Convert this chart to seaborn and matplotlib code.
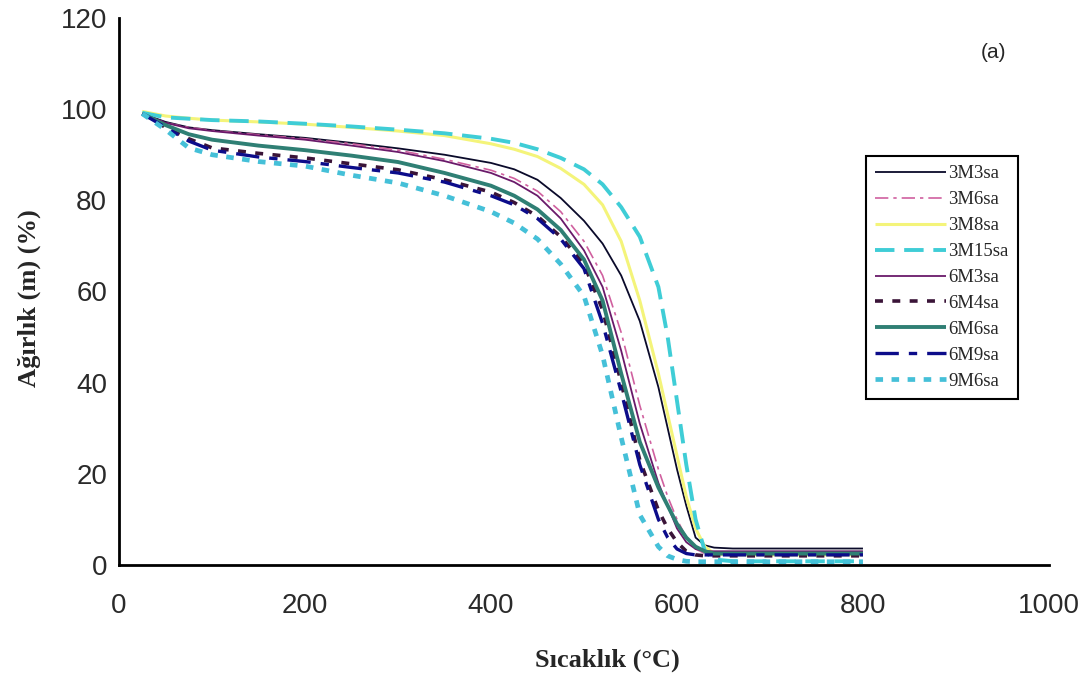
import matplotlib
matplotlib.use("Agg")
import matplotlib.pyplot as plt
import seaborn as sns
import pandas as pd

# ---- data ----
temperature = [25, 50, 75, 100, 150, 200, 250, 300, 350, 400, 425, 450, 475, 500,
               520, 540, 560, 580, 590, 600, 610, 620, 630, 640, 660, 700, 750, 800]

w_3M3sa = [99, 97.2, 96, 95.4, 94.5, 93.7, 92.6, 91.4, 90, 88.2, 86.8, 84.5, 80.5, 75.5,
           70.5, 63.5, 53.5, 39, 30, 21, 13, 6, 4.3, 3.8, 3.6, 3.6, 3.6, 3.6]
w_3M6sa = [99, 97, 96, 95.3, 94.4, 93.5, 92.4, 91, 89, 86.6, 84.8, 82, 77.5, 71,
           63.5, 51, 35, 21, 15, 10, 6, 3.5, 2.5, 2.3, 2.3, 2.3, 2.3, 2.3]
w_3M8sa = [99.5, 98.5, 98, 97.6, 97.2, 96.7, 96, 95.2, 94.2, 92.4, 91.2, 89.6, 87, 83.5,
           79, 71, 58, 42, 33, 24, 15, 8, 4, 2.5, 2.2, 2.2, 2.2, 2.2]
w_3M15sa = [99.2, 98.2, 97.9, 97.6, 97.3, 96.8, 96.2, 95.5, 94.7, 93.5, 92.6, 91.2, 89.3, 86.8,
            83.5, 78.5, 72, 61, 50, 36, 22, 10, 3, 1.2, 0.8, 0.8, 0.8, 0.8]
w_6M3sa = [99, 97, 95.8, 95.2, 94.2, 93.3, 92, 90.6, 88.6, 86, 84, 81, 76, 69,
           61, 47, 31, 18, 13, 8, 5, 3.5, 3, 3, 3, 3, 3, 3]
w_6M4sa = [99, 96, 93.5, 91.5, 90.3, 89.3, 88, 86.7, 84.5, 81.8, 79.5, 76.5, 72, 66,
           56, 40, 23, 12, 8, 5, 3, 2.2, 2, 2, 2, 2, 2, 2]
w_6M6sa = [99, 96.5, 94.5, 93.3, 92, 91, 89.8, 88.4, 86, 83.2, 81, 78, 73.5, 67,
           58, 42, 27, 17, 13, 9, 6, 4, 3, 2.5, 2.5, 2.5, 2.5, 2.5]
w_6M9sa = [99, 96, 93, 91, 89.5, 88.5, 87.2, 86, 84, 81, 79, 76, 71.5, 65,
           53, 38, 22, 10, 6, 3.5, 2.5, 2.2, 2.2, 2.2, 2.2, 2.2, 2.2, 2.2]
w_9M6sa = [99, 95.5, 91.5, 90, 88.5, 87.5, 85.5, 83.8, 81, 77.5, 75, 71.5, 66, 59,
           46, 28, 11, 4, 2, 1.2, 0.8, 0.7, 0.7, 0.7, 0.7, 0.7, 0.7, 0.7]

series_names = ["3M3sa", "3M6sa", "3M8sa", "3M15sa", "6M3sa", "6M4sa", "6M6sa", "6M9sa", "9M6sa"]
series_values = [w_3M3sa, w_3M6sa, w_3M8sa, w_3M15sa, w_6M3sa, w_6M4sa, w_6M6sa, w_6M9sa, w_9M6sa]

x_ticks = [0, 200, 400, 600, 800, 1000]
y_ticks = [0, 20, 40, 60, 80, 100, 120]

# ---- styles ----
styles = {
    "3M3sa":  dict(color="#0a0a2a", lw=1.3, dashes=None),
    "3M6sa":  dict(color="#d0609f", lw=1.2, dashes=(8, 3, 2, 3)),
    "3M8sa":  dict(color="#f4f47a", lw=2.2, dashes=None),
    "3M15sa": dict(color="#3fcdd6", lw=2.8, dashes=(5, 2.5)),
    "6M3sa":  dict(color="#6a1a6a", lw=1.3, dashes=None),
    "6M4sa":  dict(color="#3a1438", lw=2.6, dashes=(2.2, 2.6)),
    "6M6sa":  dict(color="#2f7f74", lw=2.8, dashes=None),
    "6M9sa":  dict(color="#0c0c8a", lw=2.4, dashes=(7, 3, 2.5, 3)),
    "9M6sa":  dict(color="#45c0d8", lw=3.4, dashes=(1.6, 1.8)),
}

rows = []
for name, vals in zip(series_names, series_values):
    for t, v in zip(temperature, vals):
        rows.append({"T": t, "W": v, "seri": name})
df = pd.DataFrame(rows)

sns.set_style("white")
plt.rcParams["font.family"] = ["Liberation Sans", "DejaVu Sans"]

fig = plt.figure(figsize=(10.87, 6.79), dpi=100)
ax = fig.add_axes([0.1095, 0.168, 0.8555, 0.8055])

for name in series_names:
    st = styles[name]
    sub = df[df["seri"] == name]
    sns.lineplot(data=sub, x="T", y="W", ax=ax, color=st["color"], linewidth=st["lw"],
                 estimator=None, sort=False, legend=False)
    ln = ax.get_lines()[-1]
    ln.set_label(name)
    if st["dashes"] is not None:
        ln.set_dashes(st["dashes"])
    ln.set_solid_capstyle("butt")
    ln.set_dash_capstyle("butt")

ax.set_xlim(0, 1000)
ax.set_ylim(0, 120)
ax.set_xticks(x_ticks)
ax.set_yticks(y_ticks)
ax.tick_params(axis="both", which="major", labelsize=20, direction="out",
               length=4.5, width=1.5, colors="black", labelcolor="#2a2a2a")
ax.tick_params(axis="x", pad=16)
ax.tick_params(axis="y", pad=4)
for s in ["top", "right"]:
    ax.spines[s].set_visible(False)
for s in ["left", "bottom"]:
    ax.spines[s].set_visible(True)
    ax.spines[s].set_color("black")
    ax.spines[s].set_linewidth(2)

ax.set_xlabel("Sıcaklık (°C)", fontsize=19, fontweight="bold",
              family=["Liberation Serif", "DejaVu Serif"])
ax.set_ylabel("Ağırlık (m) (%)", fontsize=19, fontweight="bold",
              family=["Liberation Serif", "DejaVu Serif"])
ax.xaxis.set_label_coords(0.525, -0.174)
ax.yaxis.set_label_coords(-0.096, 0.488)
ax.xaxis.label.set_va("center")
ax.yaxis.label.set_va("center")

ax.text(940, 112.5, "(a)", fontsize=15, ha="center", va="center",
        family=["Liberation Sans", "DejaVu Sans"])

leg = ax.legend(loc="upper left", bbox_to_anchor=(0.803, 0.748), frameon=True,
                fancybox=False, framealpha=1, edgecolor="black",
                prop={"family": ["Liberation Serif", "DejaVu Serif"], "size": 13.5},
                handlelength=3.8, handletextpad=0.1, labelspacing=0.47,
                borderpad=0.5, borderaxespad=0)
leg.get_frame().set_linewidth(1.5)

fig.savefig("out.png", dpi=100, facecolor="white")
